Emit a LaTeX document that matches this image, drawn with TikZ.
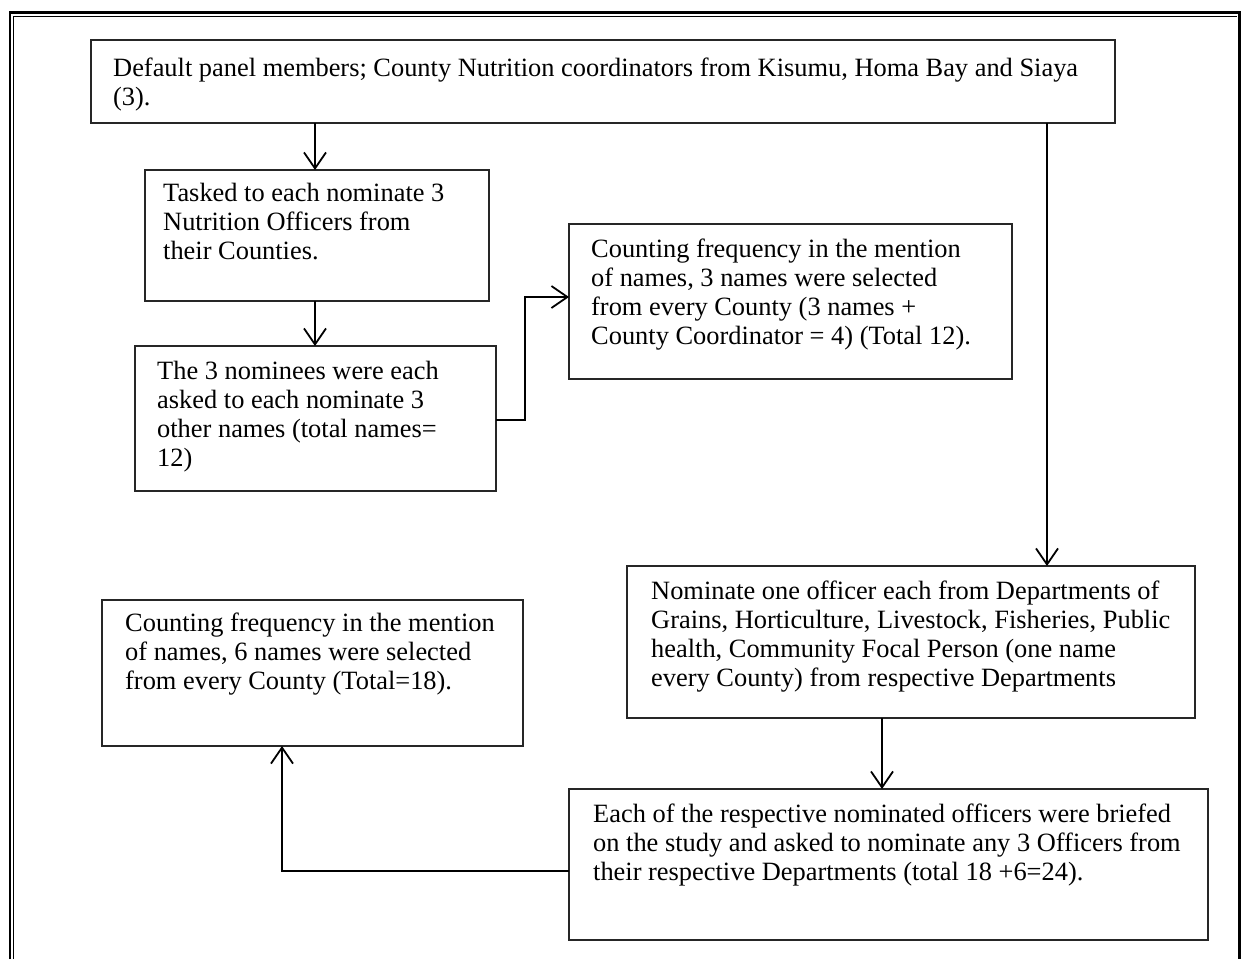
\documentclass[tikz,border=0pt]{standalone}
\usepackage{fontspec}
\setmainfont{Liberation Serif}
\usetikzlibrary{arrows.meta,calc}
\begin{document}
\begin{tikzpicture}[x=1pt,y=-1pt,
  fbox/.style={draw=black!85, line width=1.8pt, inner sep=0pt, outer sep=0pt, anchor=north west},
  txt/.style={anchor=north west, inner sep=0pt, align=left, font=\fontsize{26.4}{29}\selectfont},
  arr/.style={draw=black, line width=1.5pt, -{Straight Barb[length=16pt,width=22pt,line width=1.8pt]}},
  lnk/.style={draw=black, line width=1.5pt}]
\useasboundingbox (0,0) rectangle (1242,959);
% outer frame
\draw[line width=2.6pt] (10,959) -- (10,12.5) -- (1239.5,12.5) -- (1239.5,959);
\draw[line width=1pt] (13.8,959) -- (13.8,16) -- (1236.5,16);
% boxes
\node[fbox, minimum width=1024pt, minimum height=83pt] (b1) at (91,40) {};
\node[fbox, minimum width=344pt, minimum height=131pt] (b2) at (145,170) {};
\node[fbox, minimum width=361pt, minimum height=145pt] (b3) at (135,346) {};
\node[fbox, minimum width=443pt, minimum height=155pt] (b4) at (569,224) {};
\node[fbox, minimum width=568pt, minimum height=152pt] (b5) at (627,566) {};
\node[fbox, minimum width=639pt, minimum height=151pt] (b6) at (569,789) {};
\node[fbox, minimum width=421pt, minimum height=146pt] (b7) at (102,600) {};
% texts
\node[txt] (t1) at (113,58) {Default panel members; County Nutrition coordinators from Kisumu, Homa Bay and Siaya\\(3).};
\node[txt] (t2) at (163,183) {Tasked to each nominate 3\\Nutrition Officers from\\their Counties.};
\node[txt] (t3) at (157,361) {The 3 nominees were each\\asked to each nominate 3\\other names (total names=\\12)};
\node[txt] (t4) at (591,239) {Counting frequency in the mention\\of names, 3 names were selected\\from every County (3 names +\\County Coordinator = 4) (Total 12).};
\node[txt] (t5) at (651,581) {Nominate one officer each from Departments of\\Grains, Horticulture, Livestock, Fisheries, Public\\health, Community Focal Person (one name\\every County) from respective Departments};
\node[txt] (t6) at (593,804) {Each of the respective nominated officers were briefed\\on the study and asked to nominate any 3 Officers from\\their respective Departments (total 18 +6=24).};
\node[txt] (t7) at (125,613) {Counting frequency in the mention\\of names, 6 names were selected\\from every County (Total=18).};
% connectors
\draw[arr] ($(b1.south west)+(224,0)$) -- ($(b2.north west)+(170,0)$);
\draw[arr] ($(b2.south west)+(170,0)$) -- ($(b3.north west)+(180,0)$);
\draw[arr] ($(b3.north east)+(0,74)$) -- ++(29,0) |- ($(b4.north west)+(0,73)$);
\draw[arr] ($(b1.south west)+(956,0)$) -- ($(b5.north west)+(420,0)$);
\draw[arr] ($(b5.south west)+(255,0)$) -- ($(b6.north west)+(313,0)$);
\draw[arr] ($(b6.north west)+(0,82)$) -| ($(b7.south west)+(180,0)$);
\end{tikzpicture}
\end{document}
